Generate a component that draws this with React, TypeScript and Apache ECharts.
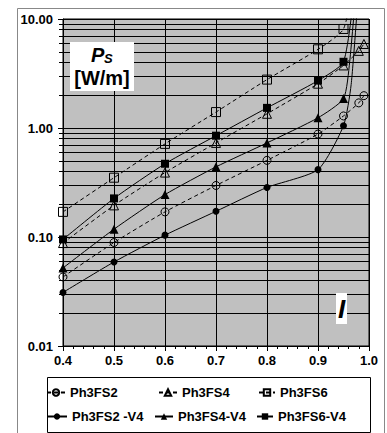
import React, { useEffect, useRef } from 'react';
import * as echarts from 'echarts';

// x = I, y = P_S [W/m]
const fs2: number[][] = [[0.4, 0.043], [0.5, 0.089], [0.6, 0.17], [0.7, 0.297], [0.8, 0.505], [0.9, 0.88], [0.95, 1.29], [0.98, 1.7], [0.99, 1.98]];
const fs4: number[][] = [[0.4, 0.088], [0.5, 0.195], [0.6, 0.39], [0.7, 0.73], [0.8, 1.35], [0.9, 2.55], [0.95, 3.75], [0.98, 5.1], [0.99, 5.9]];
const fs6: number[][] = [[0.4, 0.17], [0.5, 0.35], [0.6, 0.715], [0.7, 1.4], [0.8, 2.78], [0.9, 5.27], [0.95, 8.1]];
const fs6Tail: number[][] = [[0.975, 30]];
const fs2v4: number[][] = [[0.4, 0.031], [0.5, 0.059], [0.6, 0.104], [0.7, 0.172], [0.8, 0.285], [0.9, 0.415], [0.95, 1.05]];
const fs2v4Tail: number[][] = [[0.965, 2.5], [0.98, 20]];
const fs4v4: number[][] = [[0.4, 0.052], [0.5, 0.118], [0.6, 0.245], [0.7, 0.44], [0.8, 0.73], [0.9, 1.24], [0.95, 1.86]];
const fs4v4Tail: number[][] = [[0.962, 4], [0.975, 20]];
const fs6v4: number[][] = [[0.4, 0.095], [0.5, 0.226], [0.6, 0.47], [0.7, 0.85], [0.8, 1.53], [0.9, 2.72], [0.95, 4.05]];
const fs6v4Tail: number[][] = [[0.972, 20]];

const seriesNames = ['Ph3FS2', 'Ph3FS4', 'Ph3FS6', 'Ph3FS2 -V4', 'Ph3FS4-V4', 'Ph3FS6-V4'];

const FONT = 'Arial, "Liberation Sans", sans-serif';

function build(pts: number[][], tail: number[][]) {
  return pts.map((p) => p).concat(tail.map((p) => ({ value: p, symbol: 'none' }) as any));
}

export default function App() {
  const ref = useRef<HTMLDivElement>(null);
  useEffect(() => {
    if (!ref.current) return;
    const chart = echarts.init(ref.current, null, { renderer: 'svg' });
    const mk = (name: string, data: any[], symbol: string, size: number, open: boolean) => ({
      name,
      type: 'line',
      data,
      symbol,
      symbolSize: size,
      smooth: 0.2,
      showAllSymbol: true,
      lineStyle: { color: '#000', width: 1, type: open ? [4, 3] : 'solid' },
      itemStyle: open
        ? { color: 'rgba(0,0,0,0)', borderColor: '#000', borderWidth: 1 }
        : { color: '#000', borderColor: '#000', borderWidth: 0 },
      emphasis: { disabled: true },
      z: open ? 3 : 4,
    });
    const legendItem = (name: string, left: number, top: number, w: number) => ({
      data: [name],
      left,
      top,
      itemWidth: w,
      itemHeight: 8,
      padding: 0,
      selectedMode: false,
      textStyle: { fontFamily: FONT, fontWeight: 'bold', fontSize: 13, color: '#000' },
    });
    chart.setOption({
      animation: false,
      backgroundColor: '#fff',
      grid: {
        left: 63, right: 18, top: 19, bottom: 87,
        show: true, backgroundColor: '#c0c0c0', borderColor: '#000', borderWidth: 1,
      },
      xAxis: {
        type: 'value', min: 0.4, max: 1.0, interval: 0.1,
        axisLine: { show: true, onZero: false, lineStyle: { color: '#000', width: 1 } },
        axisTick: { show: true, length: 5, lineStyle: { color: '#000' } },
        minorTick: { show: true, splitNumber: 5, length: 3, lineStyle: { color: '#000' } },
        splitLine: { show: true, lineStyle: { color: '#000', width: 1 } },
        axisLabel: { formatter: (v: number) => v.toFixed(1), fontFamily: FONT, fontWeight: 'bold', fontSize: 13, color: '#000', margin: 8 },
      },
      yAxis: {
        type: 'log', logBase: 10, min: 0.01, max: 10,
        axisLine: { show: true, lineStyle: { color: '#000', width: 1 } },
        axisTick: { show: true, length: 5, lineStyle: { color: '#000' } },
        minorTick: { show: true, splitNumber: 9, length: 4, lineStyle: { color: '#000' } },
        splitLine: { show: true, lineStyle: { color: '#000', width: 1 } },
        minorSplitLine: { show: true, lineStyle: { color: '#000', width: 1 } },
        axisLabel: { formatter: (v: number) => v.toFixed(2), fontFamily: FONT, fontWeight: 'bold', fontSize: 13, color: '#000', margin: 10 },
      },
      legend: [
        legendItem(seriesNames[0], 46, 386, 18),
        legendItem(seriesNames[1], 158, 386, 18),
        legendItem(seriesNames[2], 258, 386, 16),
        legendItem(seriesNames[3], 46, 410, 20),
        legendItem(seriesNames[4], 154, 410, 18),
        legendItem(seriesNames[5], 256, 410, 16),
      ],
      series: [
        mk(seriesNames[0], build(fs2, []), 'circle', 8, true),
        mk(seriesNames[1], build(fs4, []), 'triangle', 9, true),
        mk(seriesNames[2], build(fs6, fs6Tail), 'rect', 9, true),
        mk(seriesNames[3], build(fs2v4, fs2v4Tail), 'circle', 7, false),
        mk(seriesNames[4], build(fs4v4, fs4v4Tail), 'triangle', 9, false),
        mk(seriesNames[5], build(fs6v4, fs6v4Tail), 'rect', 8, false),
      ],
      graphic: [
        { type: 'rect', z: -10, silent: true, shape: { x: 17.5, y: 8.5, width: 367, height: 440 }, style: { fill: 'none', stroke: '#888', lineWidth: 1 } },
        { type: 'rect', z: 1, silent: true, shape: { x: 47.5, y: 377.5, width: 323, height: 55 }, style: { fill: '#fff', stroke: '#000', lineWidth: 1 } },
        { type: 'rect', z: 50, silent: true, shape: { x: 70, y: 42, width: 64, height: 49 }, style: { fill: '#fff' } },
        { type: 'text', z: 51, silent: true, x: 91, y: 45, style: { text: 'P', fontFamily: FONT, fontWeight: 'bold', fontStyle: 'italic', fontSize: 20, fill: '#000' } },
        { type: 'text', z: 51, silent: true, x: 104, y: 52, style: { text: 'S', fontFamily: FONT, fontWeight: 'bold', fontStyle: 'italic', fontSize: 13, fill: '#000' } },
        { type: 'text', z: 51, silent: true, x: 102, y: 68, style: { text: '[W/m]', fontFamily: FONT, fontWeight: 'bold', fontSize: 20, fill: '#000', align: 'center' } },
        { type: 'rect', z: 50, silent: true, shape: { x: 336, y: 293, width: 11, height: 31 }, style: { fill: '#fff' } },
        { type: 'text', z: 51, silent: true, x: 341.5, y: 296, style: { text: 'I', fontFamily: FONT, fontWeight: 'bold', fontStyle: 'italic', fontSize: 26, fill: '#000', align: 'center' } },
      ],
    });
    return () => chart.dispose();
  }, []);
  return <div ref={ref} style={{ position: 'absolute', left: 0, top: 0, width: 387, height: 433 }} />;
}
